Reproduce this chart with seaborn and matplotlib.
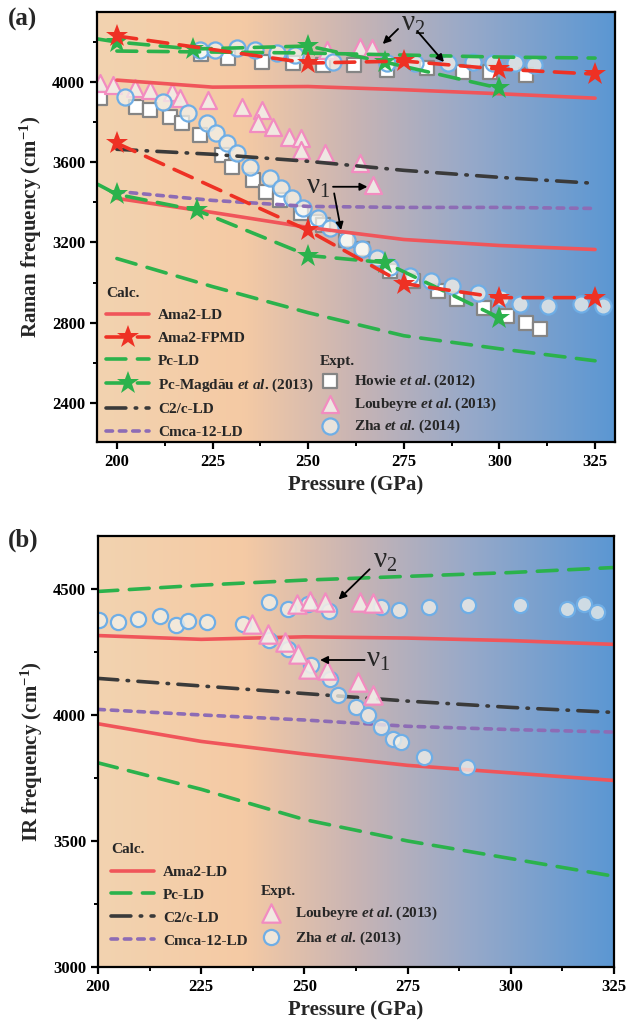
"""Raman / IR 주파수 vs 압력 — (a) Raman, (b) IR 두 패널."""

import matplotlib.pyplot as plt
import numpy as np
import seaborn as sns
from matplotlib.colors import LinearSegmentedColormap
from matplotlib.ticker import MultipleLocator

# ---------------- (a) Raman: 계산값 ----------------
p_ld = [200, 225, 250, 275, 300, 325]
a_ama2_ld_hi = [4010, 3975, 3978, 3962, 3942, 3920]
a_ama2_ld_lo = [3420, 3350, 3275, 3215, 3185, 3165]
a_pc_ld_hi = [4155, 4150, 4145, 4135, 4125, 4120]
a_pc_ld_lo = [3120, 2980, 2850, 2735, 2670, 2610]
a_c2c_ld = [3665, 3640, 3605, 3560, 3525, 3495]
a_cmca_ld = [3455, 3410, 3380, 3375, 3375, 3370]

p_fpmd = [200, 250, 275, 300, 325]
a_fpmd_hi = [4230, 4095, 4105, 4065, 4040]
a_fpmd_lo = [3695, 3260, 2995, 2925, 2925]

p_mag_hi = [195, 200, 220, 250, 270, 300]
a_mag_hi = [4215, 4200, 4165, 4180, 4100, 3970]
p_mag_lo = [195, 200, 221, 250, 270, 300]
a_mag_lo = [3490, 3440, 3360, 3135, 3100, 2825]

# ---------------- (a) Raman: 실험값 ----------------
p_howie_hi = [222, 229, 238, 246, 254, 262, 270.5, 281, 290.5, 297.6, 307]
v_howie_hi = [4140, 4120, 4100, 4095, 4085, 4085, 4060, 4070, 4050, 4050, 4035]
p_howie_lo = [195.5, 205, 208.6, 214, 217, 221.7, 227.5, 230, 235.6, 239, 242.7, 248,
              252, 254, 260, 264, 271.5, 277.5, 284, 289, 296, 302, 307, 310.7]
v_howie_lo = [3920, 3875, 3860, 3825, 3795, 3735, 3635, 3575, 3510, 3450, 3410, 3345,
              3300, 3285, 3210, 3170, 3060, 3010, 2960, 2920, 2875, 2835, 2800, 2770]

p_loub_hi = [255, 263.6, 266.7]
v_loub_hi = [4160, 4175, 4170]
p_loub_lo = [195.5, 199, 204.7, 208.6, 214.4, 216.5, 223.8, 232.7, 238, 237, 240.8,
             245, 248, 248, 254.5, 263.6, 267]
v_loub_lo = [3995, 3985, 3970, 3960, 3950, 3920, 3910, 3875, 3860, 3795, 3775,
             3725, 3720, 3660, 3645, 3595, 3485]

p_zha14_hi = [221.7, 225.6, 231.4, 236, 241.9, 246.6, 256.5, 270.7, 278, 286.6,
              293, 298.4, 304, 309]
v_zha14_hi = [4160, 4160, 4170, 4160, 4145, 4135, 4100, 4095, 4095, 4095,
              4100, 4095, 4095, 4085]
p_zha14_lo = [202, 212, 218.6, 223.6, 226, 228.8, 231.4, 234.8, 240, 243, 245.8,
              248.7, 252.6, 255.8, 260.2, 264.2, 268, 271.5, 276.7, 282, 287.7,
              294.5, 300.3, 305.5, 312.8, 321.2, 327]
v_zha14_lo = [3925, 3900, 3845, 3795, 3745, 3695, 3645, 3575, 3520, 3470, 3420,
              3370, 3320, 3270, 3210, 3170, 3122, 3080, 3035, 3010, 2985,
              2950, 2925, 2895, 2885, 2895, 2885]

# ---------------- (b) IR: 계산값 ----------------
b_ama2_ld_hi = [4315, 4300, 4310, 4305, 4295, 4280]
b_ama2_ld_lo = [3965, 3895, 3845, 3800, 3770, 3740]
b_pc_ld_hi = [4490, 4515, 4535, 4550, 4565, 4585]
b_pc_ld_lo = [3810, 3705, 3585, 3500, 3430, 3360]
b_c2c_ld = [4145, 4115, 4085, 4055, 4030, 4010]
b_cmca_ld = [4022, 4000, 3980, 3955, 3942, 3932]

# ---------------- (b) IR: 실험값 ----------------
p_loub_b = [248.1, 251.4, 255, 263.5, 266.7,
            237.2, 241.3, 245.3, 248.5, 251, 255.4, 263, 266.7]
v_loub_b = [4442, 4451, 4448, 4448, 4446,
            4362, 4323, 4290, 4243, 4184, 4177, 4131, 4078]
p_zha13 = [200.3, 204.9, 209.6, 215, 218.9, 221.9, 226.3, 235.1, 241.5, 246.1,
           250.8, 255.9, 268.5, 272.9, 280.2, 289.7, 302.3, 313.6, 317.8, 320.9,
           241.5, 246.1, 251.6, 256.2, 258.1, 262.6, 265.5, 268.5, 271.4, 273.5,
           279, 289.5]
v_zha13 = [4376, 4369, 4382, 4393, 4358, 4372, 4369, 4362, 4448, 4422,
           4442, 4411, 4429, 4415, 4429, 4435, 4438, 4422, 4442, 4409,
           4296, 4263, 4197, 4144, 4078, 4032, 3999, 3952, 3906, 3893,
           3833, 3794]

# 스타일
sns.set_style("ticks")
plt.rcParams.update(
    {
        "font.family": ["Liberation Serif", "DejaVu Serif"],
        "font.weight": "bold",
        "axes.labelweight": "bold",
        "mathtext.fontset": "custom",
        "mathtext.rm": "Liberation Serif:bold",
        "mathtext.it": "Liberation Serif:italic:bold",
        "mathtext.bf": "Liberation Serif:bold",
        "axes.linewidth": 1.6,
        "axes.edgecolor": "black",
        "xtick.major.width": 1.6,
        "ytick.major.width": 1.6,
        "xtick.minor.width": 1.4,
        "ytick.minor.width": 1.4,
        "xtick.major.size": 5,
        "ytick.major.size": 5,
        "xtick.minor.size": 3,
        "ytick.minor.size": 3,
        "xtick.color": "black",
        "ytick.color": "black",
        "xtick.labelsize": 12,
        "ytick.labelsize": 12,
    }
)

RED_LD = "#F0555A"
RED_MD = "#EE3124"
GREEN = "#2BB24C"
DARK = "#3A3A3A"
PURPLE = "#8D6CB5"
BLUE_EDGE = "#6FAEE6"
PINK_EDGE = "#F28CC0"

DASH = (0, (5.5, 3.2))
SHORT = (0, (1.8, 1.9))
DASHDOT = (0, (5.5, 2.6, 0.4, 2.6))

bg = LinearSegmentedColormap.from_list(
    "bg",
    [(0.0, "#F2D3B0"), (0.28, "#F5CAA4"), (0.5, "#C8B4B4"),
     (0.72, "#97A9C9"), (1.0, "#5B97D3")],
)


def paint_bg(ax, xlim, ylim):
    grad = np.linspace(0, 1, 256).reshape(1, -1)
    ax.imshow(grad, extent=[xlim[0], xlim[1], ylim[0], ylim[1]], aspect="auto",
              cmap=bg, zorder=0, interpolation="bicubic")
    ax.set_xlim(*xlim)
    ax.set_ylim(*ylim)


def line(ax, x, y, color, ls="-", label=None, z=3, **kw):
    sns.lineplot(x=x, y=y, ax=ax, color=color, linestyle=ls, lw=2.6, label=label,
                 dash_capstyle="round", zorder=z, legend=False, sort=False, **kw)


def pts(ax, x, y, marker, s, face, edge, label=None, z=2):
    sns.scatterplot(x=x, y=y, ax=ax, marker=marker, s=s, facecolor=face,
                    edgecolor=edge, linewidth=1.6, label=label, zorder=z, legend=False)


def nu(ax, x, y, sub):
    ax.text(x, y, "ν$_\\mathregular{" + sub + "}$", fontsize=21, fontweight="normal",
            ha="center", va="center", zorder=6)


def arrow(ax, start, tip):
    ax.annotate("", xy=tip, xytext=start, zorder=6,
                arrowprops=dict(arrowstyle="-|>", color="black", lw=1.3,
                                mutation_scale=11, shrinkA=0, shrinkB=0))


def style_axis(ax, ymaj, ymin):
    ax.xaxis.set_major_locator(MultipleLocator(25))
    ax.xaxis.set_minor_locator(MultipleLocator(12.5))
    ax.yaxis.set_major_locator(MultipleLocator(ymaj))
    ax.yaxis.set_minor_locator(MultipleLocator(ymin))
    ax.tick_params(which="both", direction="out", top=False, right=False)
    ax.set_xlabel("Pressure (GPa)", fontsize=15, labelpad=4)
    for sp in ax.spines.values():
        sp.set_zorder(10)


def add_legends(ax, calc_labels, expt_labels, calc_anchor, expt_anchor,
                calc_space, expt_space):
    handles, labels = ax.get_legend_handles_labels()
    lookup = dict(zip(labels, handles))
    leg1 = ax.legend([lookup[l] for l in calc_labels], calc_labels, title="Calc.",
                     loc="lower left", bbox_to_anchor=calc_anchor, frameon=False,
                     fontsize=11, title_fontproperties={"weight": "bold", "size": 11},
                     alignment="left", handlelength=2.8, handletextpad=0.6,
                     labelspacing=calc_space, borderpad=0.2, borderaxespad=0.0)
    ax.add_artist(leg1)
    leg1.set_zorder(7)
    leg2 = ax.legend([lookup[l] for l in expt_labels], expt_labels, title="Expt.",
                     loc="lower left", bbox_to_anchor=expt_anchor, frameon=False,
                     fontsize=11, title_fontproperties={"weight": "bold", "size": 11},
                     alignment="left", handlelength=1.3, handletextpad=0.9,
                     labelspacing=expt_space, borderpad=0.2, borderaxespad=0.0)
    leg2.set_zorder(7)


fig = plt.figure(figsize=(6.32, 10.3), dpi=100)
ax_a = fig.add_axes([0.1535, 0.5709, 0.8195, 0.4175])
ax_b = fig.add_axes([0.155, 0.0612, 0.8165, 0.4184])

# ---------------- (a) ----------------
paint_bg(ax_a, (194.8, 330.2), (2205, 4350))
howie_lab = "Howie $\\mathit{et\\ al}$. (2012)"
loub_lab = "Loubeyre $\\mathit{et\\ al}$. (2013)"
zha14_lab = "Zha $\\mathit{et\\ al}$. (2014)"
mag_lab = "Pc-Magdău $\\mathit{et\\ al}$. (2013)"

sq_face, tri_face, circ_face = "white", (0.95, 0.93, 0.91, 0.9), (0.95, 0.95, 0.92, 0.75)
pts(ax_a, p_howie_lo, v_howie_lo, "s", 95, sq_face, "#858585", label=howie_lab)
pts(ax_a, p_howie_hi, v_howie_hi, "s", 95, sq_face, "#858585")
pts(ax_a, p_loub_lo, v_loub_lo, "^", 150, tri_face, PINK_EDGE, label=loub_lab)
pts(ax_a, p_loub_hi, v_loub_hi, "^", 150, tri_face, PINK_EDGE)
pts(ax_a, p_zha14_lo, v_zha14_lo, "o", 135, circ_face, BLUE_EDGE, label=zha14_lab)
pts(ax_a, p_zha14_hi, v_zha14_hi, "o", 135, circ_face, BLUE_EDGE)

line(ax_a, p_ld, a_ama2_ld_hi, RED_LD, label="Ama2-LD")
line(ax_a, p_ld, a_ama2_ld_lo, RED_LD)
line(ax_a, p_ld, a_pc_ld_hi, GREEN, DASH, label="Pc-LD")
line(ax_a, p_ld, a_pc_ld_lo, GREEN, DASH)
line(ax_a, p_ld, a_c2c_ld, DARK, DASHDOT, label="C2/c-LD")
line(ax_a, p_ld, a_cmca_ld, PURPLE, SHORT, label="Cmca-12-LD")
star = dict(marker="*", markersize=17, markeredgewidth=0)
line(ax_a, p_mag_hi, a_mag_hi, GREEN, DASH, label=mag_lab, z=4,
     markevery=list(range(1, len(p_mag_hi))), **star)
line(ax_a, p_mag_lo, a_mag_lo, GREEN, DASH, z=4,
     markevery=list(range(1, len(p_mag_lo))), **star)
line(ax_a, p_fpmd, a_fpmd_hi, RED_MD, DASH, label="Ama2-FPMD", z=5, **star)
line(ax_a, p_fpmd, a_fpmd_lo, RED_MD, DASH, z=5, **star)

nu(ax_a, 277.5, 4290, "2")
arrow(ax_a, (273.5, 4265), (269.5, 4190))
arrow(ax_a, (278.5, 4255), (285.5, 4100))
nu(ax_a, 252.5, 3478, "1")
arrow(ax_a, (256.5, 3478), (265.5, 3478))
arrow(ax_a, (256.8, 3445), (258.6, 3262))

style_axis(ax_a, 400, 200)
ax_a.set_ylabel("Raman frequency (cm$^{-1}$)", fontsize=15, labelpad=6)
add_legends(ax_a,
            ["Ama2-LD", "Ama2-FPMD", "Pc-LD", mag_lab, "C2/c-LD", "Cmca-12-LD"],
            [howie_lab, loub_lab, zha14_lab],
            (0.012, 0.0), (0.425, 0.008), 0.58, 0.34)

# ---------------- (b) ----------------
paint_bg(ax_b, (200, 325), (3000, 4710))
zha13_lab = "Zha $\\mathit{et\\ al}$. (2013)"

line(ax_b, p_ld, b_ama2_ld_hi, RED_LD, label="Ama2-LD")
line(ax_b, p_ld, b_ama2_ld_lo, RED_LD)
line(ax_b, p_ld, b_pc_ld_hi, GREEN, DASH, label="Pc-LD")
line(ax_b, p_ld, b_pc_ld_lo, GREEN, DASH)
line(ax_b, p_ld, b_c2c_ld, DARK, DASHDOT, label="C2/c-LD")
line(ax_b, p_ld, b_cmca_ld, PURPLE, SHORT, label="Cmca-12-LD")

pts(ax_b, p_zha13, v_zha13, "o", 120, circ_face, BLUE_EDGE, label=zha13_lab, z=4)
pts(ax_b, p_loub_b, v_loub_b, "^", 175, tri_face, PINK_EDGE, label=loub_lab, z=5)

nu(ax_b, 269.5, 4610, "2")
arrow(ax_b, (265.8, 4578), (258.3, 4458))
nu(ax_b, 268.0, 4218, "1")
arrow(ax_b, (264.6, 4218), (253.8, 4218))

style_axis(ax_b, 500, 250)
ax_b.set_ylabel("IR frequency (cm$^{-1}$)", fontsize=15, labelpad=6)
add_legends(ax_b,
            ["Ama2-LD", "Pc-LD", "C2/c-LD", "Cmca-12-LD"],
            [loub_lab, zha13_lab],
            (0.02, 0.038), (0.31, 0.04), 0.6, 0.45)

fig.text(0.012, 0.992, "(a)", fontsize=18, va="top", ha="left")
fig.text(0.012, 0.487, "(b)", fontsize=18, va="top", ha="left")

fig.savefig("out.png", dpi=100, facecolor="white")
